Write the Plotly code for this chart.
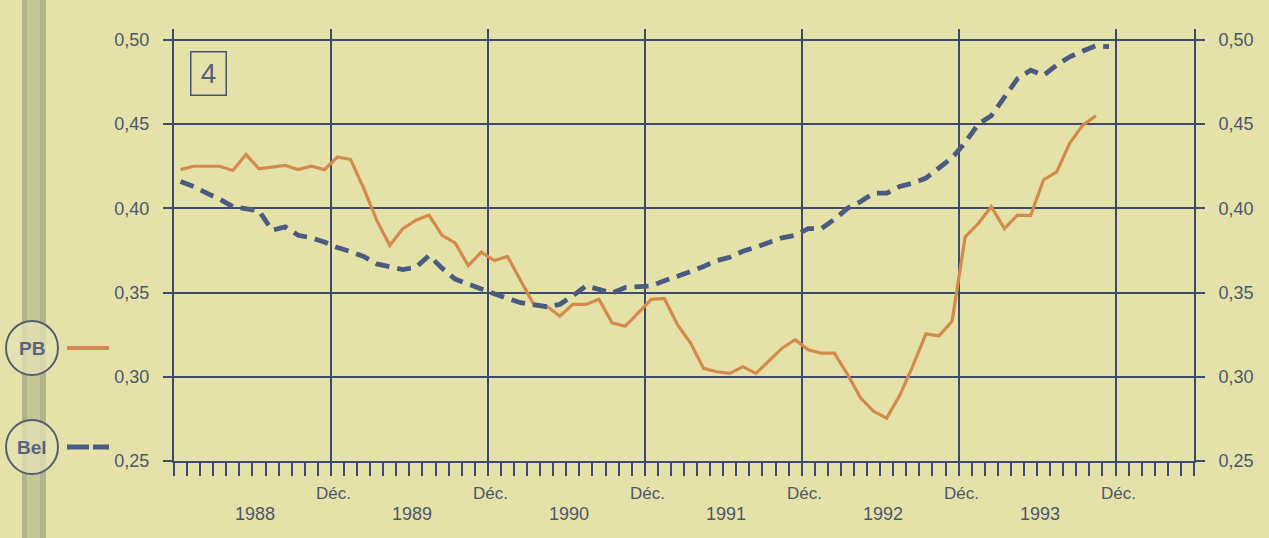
import plotly.graph_objects as go

# ---------------- data ----------------
years = ["1988", "1989", "1990", "1991", "1992", "1993"]
dec_label = "Déc."
y_ticks = [0.25, 0.30, 0.35, 0.40, 0.45, 0.50]

# monthly values, Jan 1988 onwards
pb = [0.423, 0.425, 0.425, 0.425, 0.4225, 0.432, 0.4235, 0.4245, 0.4255, 0.423,
      0.425, 0.423, 0.4305, 0.429, 0.412, 0.393, 0.378, 0.388, 0.393, 0.396,
      0.384, 0.3795, 0.366, 0.374, 0.369, 0.3715, 0.357, 0.343, 0.342, 0.336,
      0.343, 0.343, 0.346, 0.332, 0.330, 0.338, 0.346, 0.3465, 0.331, 0.320,
      0.305, 0.303, 0.302, 0.306, 0.302, 0.3095, 0.317, 0.322, 0.316, 0.314,
      0.314, 0.3015, 0.2875, 0.2795, 0.2755, 0.289, 0.3065, 0.3255, 0.3243, 0.333,
      0.383, 0.391, 0.401, 0.388, 0.396, 0.3957, 0.417, 0.4217, 0.4388, 0.4494,
      0.455]

bel = [0.416, 0.413, 0.409, 0.4055, 0.401, 0.400, 0.3985, 0.387, 0.389, 0.384,
       0.3825, 0.380, 0.3767, 0.3743, 0.3715, 0.367, 0.365, 0.3637, 0.365, 0.372,
       0.3645, 0.358, 0.355, 0.352, 0.3495, 0.3465, 0.344, 0.3425, 0.3416, 0.343,
       0.348, 0.354, 0.352, 0.3497, 0.353, 0.3534, 0.354, 0.357, 0.3595, 0.3625,
       0.3655, 0.369, 0.371, 0.3745, 0.377, 0.380, 0.3825, 0.384, 0.388, 0.388,
       0.3935, 0.400, 0.404, 0.409, 0.409, 0.413, 0.415, 0.418, 0.424, 0.430,
       0.439, 0.450, 0.455, 0.466, 0.477, 0.482, 0.479, 0.485, 0.490, 0.4935,
       0.4965, 0.496]

# month index -> mid-month position on the axis (0 = start of Jan 1988)
x_pb = [i + 0.5 for i in range(len(pb))]
x_bel = [i + 0.5 for i in range(len(bel))]

# ---------------- style / layout constants ----------------
W, H = 1269, 538
L, R, T, B = 174, 75, 29, 77
PW, PH = W - L - R, H - T - B
X_MAX = 78
Y_MIN, Y_MAX = 0.25, 0.5065

BG = "#e4e2a8"
GRID = "#3e4a6e"
TXT = "#4d566e"
ORANGE = "#d48a4c"
NAVY = "#4a5a80"
FONT = "Liberation Sans, Arial, sans-serif"


def px(xp):
    return (xp - L) / PW


def py(yp):
    return 1 - (yp - T) / PH


fig = go.Figure()

fig.add_trace(go.Scatter(x=x_pb, y=pb, mode="lines", name="PB",
                         line=dict(color=ORANGE, width=3.2), hoverinfo="skip"))
fig.add_trace(go.Scatter(x=x_bel, y=bel, mode="lines", name="Bel", yaxis="y2",
                         line=dict(color=NAVY, width=4.8, dash="14px,8px"),
                         hoverinfo="skip"))

dec_positions = [12 * (j + 1) for j in range(len(years))]

fig.update_layout(
    width=W, height=H,
    margin=dict(l=L, r=R, t=T, b=B),
    paper_bgcolor=BG, plot_bgcolor=BG,
    showlegend=False,
    separators=", ",
    font=dict(family=FONT, color=TXT, size=18),
    xaxis=dict(
        range=[0, X_MAX], tickmode="array", tickvals=dec_positions,
        showticklabels=False, showgrid=True, gridcolor=GRID, gridwidth=2,
        ticks="outside", ticklen=13, tickwidth=2, tickcolor=GRID,
        showline=True, linecolor=GRID, linewidth=2, zeroline=False,
        minor=dict(tickmode="linear", tick0=0, dtick=1, ticks="outside",
                   ticklen=13, tickwidth=2, tickcolor=GRID, showgrid=False),
    ),
    yaxis=dict(
        range=[Y_MIN, Y_MAX], tickmode="array", tickvals=y_ticks,
        tickformat=".2f", showgrid=True, gridcolor=GRID, gridwidth=2,
        ticks="outside", ticklen=9, tickwidth=2, tickcolor=GRID,
        showline=True, linecolor=GRID, linewidth=2, zeroline=False,
        ticklabelstandoff=10, tickfont=dict(size=18, color=TXT),
    ),
    yaxis2=dict(
        range=[Y_MIN, Y_MAX], overlaying="y", side="right", tickmode="array",
        tickvals=y_ticks, tickformat=".2f", showgrid=False,
        ticks="outside", ticklen=9, tickwidth=2, tickcolor=GRID,
        showline=True, linecolor=GRID, linewidth=2, zeroline=False,
        ticklabelstandoff=10, tickfont=dict(size=18, color=TXT),
    ),
)

annotations = []
# "Déc." labels under each December gridline
for xd in dec_positions:
    annotations.append(dict(x=xd + 0.2, y=0, xref="x", yref="paper", yshift=-32,
                            xanchor="center", yanchor="middle",
                            text=dec_label, showarrow=False,
                            font=dict(size=17, color=TXT, family=FONT)))
# year labels between gridlines
for j, yr in enumerate(years):
    annotations.append(dict(x=12 * j + 6.2, y=0, xref="x", yref="paper", yshift=-53,
                            xanchor="center", yanchor="middle",
                            text=yr, showarrow=False,
                            font=dict(size=18, color=TXT, family=FONT)))
# panel number box
annotations.append(dict(x=px(208), y=py(73), xref="paper", yref="paper",
                        xanchor="center", yanchor="middle",
                        text="4", showarrow=False, width=30, height=38,
                        bordercolor="#4a5470", borderwidth=1.5, borderpad=2,
                        font=dict(size=28, color="#56607a", family=FONT)))
# legend labels inside circles
legend_rows = [("PB", 348), ("Bel", 447)]
for lab, yc in legend_rows:
    annotations.append(dict(x=px(32), y=py(yc), xref="paper", yref="paper",
                            xanchor="center", yanchor="middle",
                            text="<b>%s</b>" % lab, showarrow=False,
                            font=dict(size=19, color="#5a6480", family=FONT)))

shapes = []
# book gutter band at the left edge
shapes.append(dict(type="rect", xref="paper", yref="paper", x0=px(22), x1=px(46),
                   y0=py(0), y1=py(H), fillcolor="rgba(120,125,105,0.28)",
                   line=dict(width=0), layer="above"))
shapes.append(dict(type="rect", xref="paper", yref="paper", x0=px(22), x1=px(27),
                   y0=py(0), y1=py(H), fillcolor="rgba(110,115,100,0.22)",
                   line=dict(width=0), layer="above"))
shapes.append(dict(type="rect", xref="paper", yref="paper", x0=px(40), x1=px(46),
                   y0=py(0), y1=py(H), fillcolor="rgba(110,115,100,0.22)",
                   line=dict(width=0), layer="above"))
for lab, yc in legend_rows:
    shapes.append(dict(type="circle", xref="paper", yref="paper",
                       x0=px(6), x1=px(58), y0=py(yc + 27), y1=py(yc - 27),
                       fillcolor="rgba(228,226,180,0.75)",
                       line=dict(color="#575e6e", width=2), layer="above"))
# legend line samples
shapes.append(dict(type="line", xref="paper", yref="paper", x0=px(67), x1=px(109),
                   y0=py(348), y1=py(348), line=dict(color=ORANGE, width=4),
                   layer="above"))
shapes.append(dict(type="line", xref="paper", yref="paper", x0=px(67), x1=px(89),
                   y0=py(447), y1=py(447), line=dict(color=NAVY, width=5),
                   layer="above"))
shapes.append(dict(type="line", xref="paper", yref="paper", x0=px(93), x1=px(109),
                   y0=py(447), y1=py(447), line=dict(color=NAVY, width=5),
                   layer="above"))

fig.update_layout(annotations=annotations, shapes=shapes)

fig.write_html(
    "out.html",
    config={"displayModeBar": False},
    post_script="document.body.style.margin='0px';"
                "document.body.style.background='%s';" % BG,
)
